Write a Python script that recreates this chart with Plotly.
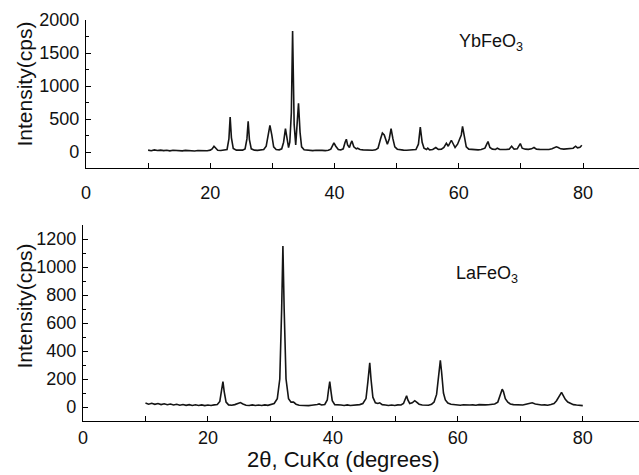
import plotly.graph_objects as go

# XRD pattern of YbFeO3 (2-theta in degrees, intensity in cps)
yb_theta = [
    10.0, 10.5, 11.0, 11.5, 12.0, 12.5, 13.0, 13.5, 14.0, 14.5, 15.0, 15.5, 16.0, 16.5,
    17.0, 17.5, 18.0, 18.5, 19.0, 19.5, 20.0, 20.3, 20.6, 20.9, 21.2, 21.7, 22.2, 22.7,
    23.0, 23.2, 23.4, 23.7, 24.2, 24.7, 25.2, 25.6, 25.9, 26.1, 26.3, 26.6, 27.1, 27.6,
    28.1, 28.6, 29.0, 29.3, 29.6, 29.9, 30.2, 30.6, 31.1, 31.5, 31.8, 32.1, 32.4, 32.6,
    32.8, 33.05, 33.25, 33.5, 33.75, 34.0, 34.2, 34.45, 34.7, 35.1, 35.6, 36.0, 36.5,
    37.0, 37.5, 38.0, 38.5, 39.0, 39.4, 39.7, 39.9, 40.2, 40.6, 41.0, 41.4, 41.7, 41.9,
    42.1, 42.4, 42.6, 42.8, 43.1, 43.5, 43.7, 44.1, 44.6, 45.1, 45.6, 46.1, 46.6, 47.0,
    47.4, 47.7, 48.0, 48.3, 48.5, 48.8, 49.1, 49.4, 49.7, 50.1, 50.6, 51.1, 51.6, 52.1,
    52.6, 53.1, 53.5, 53.8, 54.1, 54.4, 54.8, 55.0, 55.3, 55.8, 56.3, 56.7, 57.2, 57.6,
    58.0, 58.3, 58.8, 59.1, 59.4, 59.8, 60.2, 60.4, 60.6, 60.9, 61.2, 61.6, 62.1, 62.6,
    63.1, 63.6, 64.2, 64.5, 64.7, 65.0, 65.4, 65.9, 66.2, 66.6, 67.1, 67.6, 68.1, 68.5,
    68.9, 69.4, 69.7, 69.9, 70.2, 70.7, 71.2, 71.7, 72.1, 72.5, 73.0, 73.5, 74.0, 74.5,
    75.0, 75.4, 75.7, 76.0, 76.4, 76.9, 77.4, 77.9, 78.4, 78.8, 79.1, 79.5, 79.8,
]
yb_counts = [
    30, 22, 34, 24, 31, 23, 29, 20, 28, 22, 27, 19, 26, 21,
    25, 18, 24, 20, 26, 21, 30, 50, 90, 50, 28, 24, 27, 40,
    200, 530, 220, 55, 30, 26, 31, 50, 200, 465, 190, 50, 30, 27,
    31, 40, 90, 250, 405, 260, 80, 40, 35, 50, 150, 355, 130, 70,
    150, 600, 1835, 420, 110, 400, 740, 300, 80, 35, 29, 27, 23,
    28, 22, 27, 23, 28, 45, 110, 140, 90, 40, 34, 50, 150, 195,
    110, 70, 130, 170, 80, 50, 60, 40, 34, 29, 33, 28, 35, 60,
    200, 290, 260, 150, 120, 200, 355, 200, 80, 45, 33, 31, 28, 33,
    29, 40, 120, 380, 150, 60, 40, 60, 35, 40, 70, 40, 45, 70,
    135, 90, 180, 110, 70, 120, 210, 260, 390, 200, 80, 45, 40, 36,
    35, 40, 60, 120, 160, 70, 45, 40, 60, 40, 37, 40, 45, 90,
    45, 50, 100, 130, 60, 45, 42, 50, 70, 45, 42, 38, 45, 41,
    50, 70, 80, 70, 50, 45, 50, 55, 60, 90, 65, 75, 105,
]

# XRD pattern of LaFeO3
la_theta = [
    10.0, 10.5, 11.0, 11.5, 12.0, 12.5, 13.0, 13.5, 14.0, 14.5, 15.0, 15.5, 16.0, 16.5,
    17.0, 17.5, 18.0, 18.5, 19.0, 19.5, 20.0, 20.5, 21.0, 21.5, 21.9, 22.2, 22.4, 22.6,
    22.9, 23.3, 23.8, 24.3, 24.8, 25.2, 25.6, 26.1, 26.6, 27.1, 27.6, 28.1, 28.6, 29.1,
    29.6, 30.1, 30.6, 31.1, 31.5, 31.8, 32.0, 32.2, 32.5, 32.9, 33.3, 33.7, 34.1, 34.6,
    35.1, 35.6, 36.1, 36.6, 37.1, 37.5, 37.8, 38.2, 38.7, 39.1, 39.3, 39.5, 39.7, 39.9,
    40.3, 40.8, 41.3, 41.8, 42.3, 42.8, 43.3, 43.8, 44.3, 44.8, 45.3, 45.6, 45.9, 46.1,
    46.4, 46.8, 47.2, 47.5, 47.9, 48.4, 48.9, 49.4, 49.9, 50.4, 50.9, 51.3, 51.6, 51.8,
    52.0, 52.3, 52.7, 53.1, 53.4, 53.8, 54.3, 54.8, 55.3, 55.8, 56.2, 56.6, 56.9, 57.2,
    57.4, 57.7, 58.0, 58.4, 58.9, 59.4, 59.9, 60.4, 60.9, 61.4, 61.9, 62.4, 62.9, 63.4,
    63.9, 64.4, 64.9, 65.4, 65.9, 66.4, 66.8, 67.1, 67.3, 67.6, 68.0, 68.4, 68.9, 69.4,
    69.9, 70.4, 70.9, 71.4, 71.9, 72.4, 72.9, 73.4, 73.9, 74.4, 74.9, 75.4, 75.8, 76.2,
    76.6, 76.9, 77.2, 77.6, 78.0, 78.5, 79.0, 79.5, 80.0,
]
la_counts = [
    28, 20, 27, 19, 25, 17, 23, 16, 21, 14, 19, 13, 18, 12,
    17, 11, 16, 11, 15, 10, 14, 11, 15, 18, 40, 110, 182, 110,
    35, 15, 13, 17, 25, 32, 22, 13, 11, 15, 11, 14, 11, 15,
    12, 17, 25, 60, 200, 700, 1150, 700, 200, 60, 35, 35, 20, 13,
    11, 14, 10, 13, 14, 18, 22, 14, 18, 50, 120, 182, 110, 45,
    17, 13, 14, 11, 15, 11, 14, 13, 17, 25, 60, 180, 315, 200,
    70, 30, 25, 30, 17, 14, 11, 14, 11, 15, 14, 25, 60, 80,
    50, 25, 30, 45, 35, 20, 14, 15, 13, 20, 35, 90, 220, 333,
    250, 100, 50, 28, 20, 16, 15, 13, 16, 13, 14, 15, 13, 17,
    14, 15, 16, 18, 22, 35, 80, 127, 110, 60, 35, 22, 17, 16,
    18, 14, 19, 22, 30, 22, 16, 14, 15, 13, 18, 25, 45, 80,
    105, 80, 55, 35, 25, 17, 14, 12, 10,
]

FONT = "Liberation Sans, Arial, sans-serif"
W, H = 639, 475

fig = go.Figure()
fig.add_trace(go.Scatter(x=yb_theta, y=yb_counts, mode="lines",
                         line=dict(color="#151515", width=1.6),
                         xaxis="x", yaxis="y", showlegend=False, hoverinfo="skip"))
fig.add_trace(go.Scatter(x=la_theta, y=la_counts, mode="lines",
                         line=dict(color="#151515", width=1.6),
                         xaxis="x2", yaxis="y2", showlegend=False, hoverinfo="skip"))

axis_common = dict(
    showline=True, linecolor="black", linewidth=1.3, showgrid=False, zeroline=False,
    automargin=False,
    ticks="inside", tickcolor="black", tickwidth=1.2,
    tickfont=dict(family=FONT, size=18, color="#111"),
)


def px_x(p):
    return p / W


def px_y(p):
    return 1 - p / H


fig.update_layout(
    width=W, height=H,
    margin=dict(l=0, r=0, t=0, b=0, autoexpand=False),
    paper_bgcolor="white", plot_bgcolor="white",
    xaxis=dict(axis_common, domain=[px_x(86), 1], range=[0, 89], dtick=20, tick0=0,
               ticklen=5, anchor="y", ticklabelstandoff=8,
               minor=dict(dtick=10, tick0=0, ticks="inside", ticklen=5,
                          tickcolor="black", tickwidth=1.2)),
    yaxis=dict(axis_common, domain=[px_y(168), px_y(20)], range=[-240, 2000],
               dtick=500, tick0=0, ticklen=5, anchor="x", ticklabelstandoff=2,
               minor=dict(dtick=250, tick0=0, ticks="inside", ticklen=3,
                          tickcolor="black", tickwidth=1.2)),
    xaxis2=dict(axis_common, domain=[px_x(83), 1], range=[0, 89], dtick=20, tick0=0,
                ticklen=5, anchor="y2", ticklabelstandoff=0,
                minor=dict(dtick=10, tick0=0, ticks="inside", ticklen=5,
                           tickcolor="black", tickwidth=1.2)),
    yaxis2=dict(axis_common, domain=[px_y(421), px_y(225)], range=[-100, 1300],
                dtick=200, tick0=0, ticklen=5, anchor="x2", ticklabelstandoff=2,
                minor=dict(dtick=100, tick0=0, ticks="inside", ticklen=3,
                           tickcolor="black", tickwidth=1.2)),
)

annotations = [
    dict(text="Intensity(cps)", x=px_x(23.5), y=px_y(84), textangle=-90,
         font=dict(family=FONT, size=21, color="#111")),
    dict(text="Intensity(cps)", x=px_x(23.5), y=px_y(306), textangle=-90,
         font=dict(family=FONT, size=21, color="#111")),
    dict(text="2θ, CuKα (degrees)", x=px_x(342.5), y=px_y(459),
         font=dict(family=FONT, size=22, color="#111")),
    dict(text="YbFeO<sub>3</sub>", x=px_x(491), y=px_y(42),
         font=dict(family=FONT, size=18, color="#111")),
    dict(text="LaFeO<sub>3</sub>", x=px_x(487), y=px_y(274),
         font=dict(family=FONT, size=18, color="#111")),
]
for a in annotations:
    a.update(xref="paper", yref="paper", xanchor="center", yanchor="middle",
             showarrow=False)
fig.update_layout(annotations=annotations)

fig.write_html("out.html")
